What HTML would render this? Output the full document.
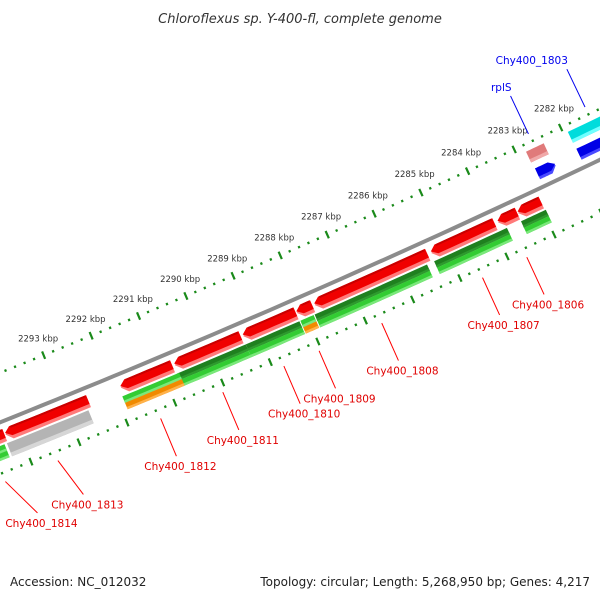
<!DOCTYPE html>
<html><head><meta charset="utf-8"><style>
html,body{margin:0;padding:0;background:#fff;}
svg{display:block;font-family:"DejaVu Sans","Liberation Sans",sans-serif;}
</style></head><body>
<svg id="map" width="600" height="600" viewBox="0 0 600 600">
<text x="300" y="23" text-anchor="middle" font-size="13" font-style="italic" fill="#333">Chloroflexus sp. Y-400-fl, complete genome</text>
<text x="10" y="586" font-size="12" fill="#222">Accession: NC_012032</text>
<text x="590" y="586" text-anchor="end" font-size="12" fill="#222">Topology: circular; Length: 5,268,950 bp; Genes: 4,217</text>
<g id="ticks"></g>
<g id="feats"></g>
<g id="labels"></g>
</svg>
<script>
// ---- data (kbp) ----
const tickKbp = [2282,2283,2284,2285,2286,2287,2288,2289,2290,2291,2292,2293];
const tickLabels = ["2282 kbp","2283 kbp","2284 kbp","2285 kbp","2286 kbp","2287 kbp","2288 kbp","2289 kbp","2290 kbp","2291 kbp","2292 kbp","2293 kbp"];
const cdsStart = [2283.96,2284.47,2284.95,2286.38,2288.82,2289.17,2290.33,2291.77,2293.53,2295.28];
const cdsEnd   = [2284.45,2284.88,2286.30,2288.77,2289.15,2290.28,2291.72,2292.85,2295.26,2296.2];
const cogGenes = ["Chy400_1806","Chy400_1807","Chy400_1808","Chy400_1809","Chy400_1810","Chy400_1811","Chy400_1812","Chy400_1813","Chy400_1814"];
const cogStart = [2283.94,2284.77,2286.47,2288.87,2289.17,2290.30,2291.70,2293.60,2295.35];
const cogEnd   = [2284.47,2286.32,2288.85,2289.15,2290.30,2291.74,2292.89,2295.30,2296.2];
const cogTop   = ["dark","dark","dark","light","dark","dark","light","gray","light"];
const cogBot   = ["light","light","light","orange","light","light","orange","gray","light"];
const labelKbp = [2284.66,2285.60,2287.73,2289.05,2289.79,2291.07,2292.37,2294.51,2295.60];
const labelEndKbp = [2284.66,2285.60,2287.73,2289.05,2289.79,2291.07,2292.37,2294.30,2295.25];
const upGenes = ["rplS","Chy400_1803"];
const upStart = [2283.43,2281.5];
const upEnd   = [2283.81,2282.91];
const upLabelKbp = [2283.62,2282.40];
const revStart = [2283.40,2281.5];
const revEnd   = [2283.79,2282.90];

// ---- geometry ----
const R0=10000, phiA=65.5*Math.PI/180, K=51.6/R0, B=[440,234.4];
const C=[B[0]-R0*Math.cos(phiA), B[1]-R0*Math.sin(phiA)];
function P(kbp,r){const f=phiA+(kbp-2286)*K;return [C[0]+(R0+r)*Math.cos(f), C[1]+(R0+r)*Math.sin(f)];}
const NS="http://www.w3.org/2000/svg";
function mk(tag,attrs,parent){const e=document.createElementNS(NS,tag);for(const k in attrs)e.setAttribute(k,attrs[k]);parent.appendChild(e);return e;}
function band(b1,b2,r1,r2,head){
  const h=0.12, pts=[], n=8;
  let s=b1,e=b2;
  if(head===1)e=Math.max(b1,b2-h);
  if(head===-1)s=Math.min(b2,b1+h);
  if(head===-1)pts.push(P(b1,(r1+r2)/2));
  for(let i=0;i<=n;i++)pts.push(P(s+(e-s)*i/n,r2));
  if(head===1)pts.push(P(b2,(r1+r2)/2));
  for(let i=n;i>=0;i--)pts.push(P(s+(e-s)*i/n,r1));
  return pts.map(p=>p[0].toFixed(1)+","+p[1].toFixed(1)).join(" ");
}
const T=document.getElementById("ticks"), F=document.getElementById("feats"), L=document.getElementById("labels");

(function(){let d="";for(let i=0;i<=60;i++){const p=P(2280+i*0.3,0);d+=(i?"L":"M")+p[0].toFixed(1)+","+p[1].toFixed(1);}
const bb=mk("path",{d:d,fill:"none",stroke:"#8c8c8c","stroke-width":4},F);

})();

[-46,48].forEach(function(rr){
  for(let m=11400;m<=11485;m++){
    const kb=m/5;
    const major=(m%5===0);
    const a=P(kb,rr-(major?4:1.2)), b=P(kb,rr+(major?4:1.2));
    const ln=mk("line",{x1:a[0],y1:a[1],x2:b[0],y2:b[1],stroke:"#1a8a1a","stroke-width":2.2},T);
    
    
  }
});
tickKbp.forEach(function(k,i){
  const p=P(k,-46);
  const t=mk("text",{x:p[0]-53,y:p[1]+6,"text-anchor":"middle","font-size":8.5,fill:"#333"},T);
  t.textContent=tickLabels[i];
  
  
});

cdsStart.forEach(function(s,i){
  const e=cdsEnd[i];
  const g1=mk("polygon",{points:band(s,e,7,20,1),fill:"#ff7a7a"},F);
  
  
  const g2=mk("polygon",{points:band(s,e,7,16.5,1),fill:"#f00000"},F);
  
  
  const g3=mk("polygon",{points:band(s+0.02,e-0.14,7,9,0),fill:"#c80000"},F);
  
  
});
const col={dark:["#1f801f","#2e9a2e"],light:["#33cc33","#7ae87a"],orange:["#f08a00","#ffb24a"],gray:["#b4b4b4","#d6d6d6"]};
cogStart.forEach(function(s,i){
  const e=cogEnd[i];
  if(cogTop[i]==="gray"){
    const a=mk("polygon",{points:band(s,e,22,36,0),fill:col.gray[0]},F);
    
    
    const b=mk("polygon",{points:band(s,e,32,36,0),fill:col.gray[1]},F);
    
    
    return;
  }
  const a=mk("polygon",{points:band(s,e,22,29,0),fill:col[cogTop[i]][0]},F);
  
  
  const a2=mk("polygon",{points:band(s,e,26.5,29,0),fill:col[cogTop[i]][1]},F);
  
  
  const b=mk("polygon",{points:band(s,e,29,36,0),fill:col[cogBot[i]][0]},F);
  
  
  const b2=mk("polygon",{points:band(s,e,33.5,36,0),fill:col[cogBot[i]][1]},F);
  
  
});
const upFill=[["#e07a7a","#f0a8a8"],["#00dcdc","#70ffff"]];
upStart.forEach(function(s,i){
  const a=mk("polygon",{points:band(s,upEnd[i],-39,-27,0),fill:upFill[i][0]},F);
  
  
  const b=mk("polygon",{points:band(s,upEnd[i],-30.5,-27,0),fill:upFill[i][1]},F);
  
  
});
revStart.forEach(function(s,i){
  const hd=i===0?-1:0;
  const a=mk("polygon",{points:band(s,revEnd[i],-20,-8,hd),fill:"#4a4aff"},F);
  
  
  const b=mk("polygon",{points:band(s,revEnd[i],-20,-11,hd),fill:"#0000e6"},F);
  
  
});

cogGenes.forEach(function(g,i){
  const a=P(labelKbp[i],57), b=P(labelEndKbp[i],98);
  const ln=mk("line",{x1:a[0],y1:a[1],x2:b[0],y2:b[1],stroke:"#f00","stroke-width":1},L);
  
  
  const t=mk("text",{x:b[0]+4,y:b[1]+14,"text-anchor":"middle","font-size":10.5,fill:"#e00000"},L);
  t.textContent=g;
  
  
});
upGenes.forEach(function(g,i){
  const a=P(upLabelKbp[i],-54), b=P(upLabelKbp[i],-96);
  const ln=mk("line",{x1:a[0],y1:a[1],x2:b[0],y2:b[1],stroke:"#0000ee","stroke-width":1},L);
  
  
  const t=mk("text",{x:b[0]+1,y:b[1]-5,"text-anchor":"end","font-size":10.5,fill:"#0000ee"},L);
  t.textContent=g;
  
  
});
</script>
</body></html>
